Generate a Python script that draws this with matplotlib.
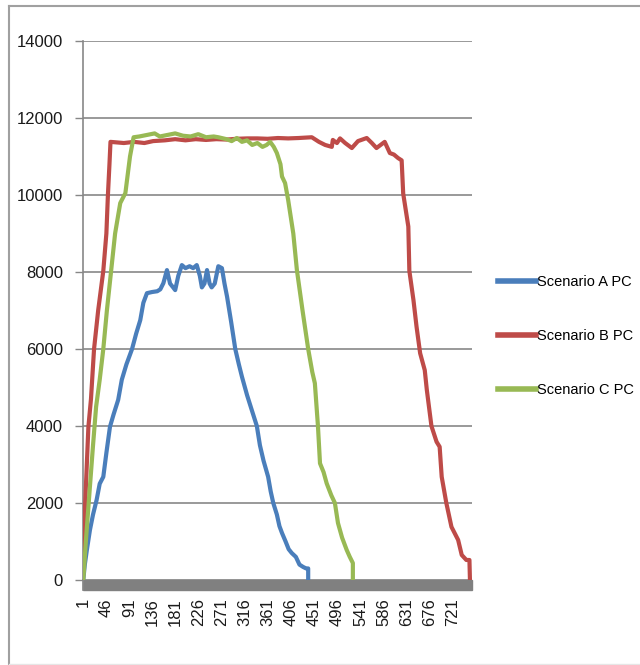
import matplotlib
matplotlib.use("Agg")
import matplotlib.pyplot as plt
from matplotlib.patches import Rectangle
from matplotlib.lines import Line2D

# values (x = row number, y = value)
a_x = [1, 4, 8, 14, 20, 27, 33, 40, 46, 53, 60, 69, 76, 85, 96, 104, 112, 118, 125, 135, 145, 151,
       157, 164, 170, 176, 180, 186, 193, 200, 208, 215, 222, 228, 232, 237, 242, 247, 251, 257,
       264, 271, 276, 281, 289, 297, 304, 310, 320, 329, 339, 345, 352, 361, 366, 371, 378, 383,
       388, 395, 401, 407, 415, 422, 429, 435, 439, 439]
a_y = [0, 400, 780, 1300, 1700, 2080, 2500, 2680, 3300, 3980, 4300, 4680, 5200, 5600, 6000, 6400,
       6750, 7200, 7450, 7480, 7500, 7550, 7710, 8050, 7700, 7600, 7530, 7900, 8180, 8100, 8150,
       8100, 8180, 7900, 7600, 7700, 8050, 7700, 7600, 7700, 8150, 8100, 7700, 7360, 6700, 6000,
       5600, 5280, 4800, 4420, 4000, 3500, 3100, 2680, 2300, 2000, 1700, 1400, 1220, 1000, 800,
       700, 600, 400, 340, 300, 300, 0]

b_x = [1, 2, 5, 11, 16, 22, 30, 40, 46, 49, 52, 54, 80, 100, 120, 137, 160, 180, 200, 220, 240,
       260, 280, 300, 320, 340, 360, 380, 400, 420, 446, 460, 472, 485, 487, 495, 501, 511, 524,
       536, 553, 563, 572, 588, 598, 606, 614, 621, 624, 634, 636, 644, 650, 657, 666, 670, 679,
       689, 695, 699, 708, 718, 731, 738, 747, 753, 754]
b_y = [600, 1200, 2080, 3980, 4700, 6000, 7000, 8030, 9000, 10000, 10800, 11380, 11350, 11380,
       11350, 11400, 11420, 11450, 11420, 11450, 11430, 11450, 11440, 11460, 11470, 11470, 11460,
       11480, 11470, 11480, 11500, 11380, 11300, 11250, 11430, 11350, 11470, 11350, 11220, 11400,
       11480, 11350, 11220, 11380, 11090, 11050, 10960, 10900, 10040, 9180, 8030, 7270, 6580,
       5890, 5450, 4940, 4000, 3590, 3460, 2680, 2000, 1380, 1040, 650, 520, 520, 0]

c_x = [1, 6, 12, 20, 26, 33, 40, 47, 55, 63, 73, 83, 92, 99, 110, 125, 140, 150, 165, 180, 195,
       210, 225, 240, 255, 264, 280, 290, 300, 310, 320, 330, 340, 350, 358, 365, 372, 378, 385,
       388, 394, 400, 410, 417, 428, 439, 447, 452, 458, 462, 469, 475, 484, 491, 497, 505, 514,
       520, 526, 526]
c_y = [0, 1000, 2080, 3500, 4500, 5200, 6000, 7000, 8000, 9000, 9790, 10050, 11000, 11500, 11520,
       11560, 11600, 11520, 11560, 11600, 11540, 11520, 11580, 11500, 11520, 11500, 11450, 11400,
       11480, 11380, 11420, 11300, 11350, 11250, 11300, 11380, 11250, 11090, 10800, 10480, 10310,
       9870, 9000, 8050, 7000, 6000, 5400, 5110, 4000, 3030, 2800, 2510, 2200, 2000, 1480, 1100,
       780, 600, 440, 0]

names = ["Scenario A PC", "Scenario B PC", "Scenario C PC"]
colors = ["#4A7EBB", "#BE4B48", "#98B954"]
x_ticks = list(range(1, 722, 45))
y_ticks = list(range(0, 14001, 2000))

plt.rcParams['font.family'] = ['Liberation Sans', 'DejaVu Sans']

fig = plt.figure(figsize=(6.4, 6.65), dpi=100)
ax = fig.add_axes([82.5 / 640, 1 - 580 / 665, (472 - 82.5) / 640, (580 - 41) / 665])

for xs, ys, nm, col in zip([a_x, b_x, c_x], [a_y, b_y, c_y], names, colors):
    ax.plot(xs, ys, color=col, lw=3, label=nm, solid_joinstyle='round', zorder=3)

ax.set_xlim(-0.5, 758)
ax.set_ylim(0, 14000)
ax.set_yticks(y_ticks)
ax.set_xticks(x_ticks)
ax.set_xticklabels([str(t) for t in x_ticks], rotation=90, fontsize=12, color='#1a1a1a')
ax.tick_params(axis='x', length=0, pad=13)
ax.tick_params(axis='y', length=6, width=1, color='#878787', labelsize=12,
               labelcolor='#1a1a1a', pad=8)
ax.yaxis.grid(True, color='#878787', lw=1.2)
ax.set_axisbelow(True)
for s in ['top', 'right', 'bottom']:
    ax.spines[s].set_visible(False)
ax.spines['left'].set_color('#878787')
ax.spines['left'].set_linewidth(1.2)
ax.spines['left'].set_bounds(0, 14000)

# thick grey floor under the zero line
ax.add_patch(Rectangle((0, -10 / 539), 1, 10 / 539, transform=ax.transAxes,
                       color='#808080', clip_on=False, zorder=2))
ax.add_line(Line2D([0, 0], [-10 / 539, 0], transform=ax.transAxes, color='#878787',
                   lw=1.2, clip_on=False))

leg = ax.legend(loc='center left', bbox_to_anchor=(498 / 640, 1 - 336 / 665),
                bbox_transform=fig.transFigure, frameon=False, fontsize=10.5,
                handlelength=2.6, handletextpad=0.05, labelspacing=2.75, borderaxespad=0,
                borderpad=0)
for ln in leg.get_lines():
    ln.set_linewidth(4)

# outer chart border
fig.add_artist(Line2D([9 / 640, 9 / 640], [1 - 6 / 665, 1 - 664 / 665], color='#a0a0a0', lw=1.5))
fig.add_artist(Line2D([9 / 640, 1], [1 - 6 / 665, 1 - 6 / 665], color='#a0a0a0', lw=1.5))
fig.add_artist(Line2D([9 / 640, 1], [1 - 664 / 665, 1 - 664 / 665], color='#e6e6e6', lw=1))

fig.savefig("out.png", dpi=100)
